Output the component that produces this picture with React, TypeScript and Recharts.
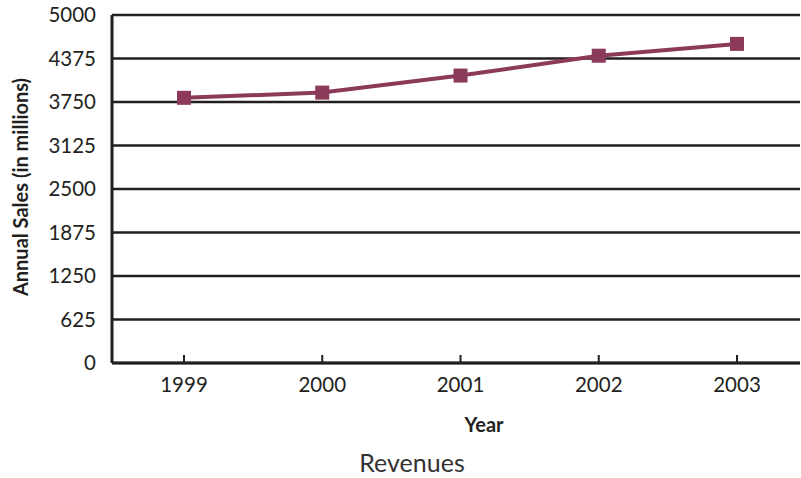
import { CartesianGrid, Label, Line, LineChart, XAxis, YAxis } from "recharts";

const years = ["1999", "2000", "2001", "2002", "2003"];
const sales = [3810, 3885, 4130, 4415, 4585];
const yTicks = [0, 625, 1250, 1875, 2500, 3125, 3750, 4375, 5000];

const data = years.map((year, i) => ({ year, sales: sales[i] }));

const font = "Lato, 'Open Sans', sans-serif";
const ink = "#231f20";
const wine = "#8b3a5a";

const YearTick = (props: any) => {
  const { x, y, payload } = props;
  return (
    <g>
      <line x1={x} x2={x} y1={y - 8} y2={y} stroke={ink} strokeWidth={2} />
      <text x={x} y={y + 29} textAnchor="middle" fontSize={20.5} fill={ink} fontFamily={font}>
        {payload.value}
      </text>
    </g>
  );
};

export default function App() {
  return (
    <div style={{ position: "absolute", left: 0, top: 0, width: 801, height: 478, background: "#fff" }}>
      <LineChart width={801} height={478} data={data} margin={{ top: 15, right: 1, left: 0, bottom: 0 }}>
        <CartesianGrid vertical={false} stroke={ink} strokeWidth={2.5} strokeOpacity={1} />
        <XAxis
          dataKey="year"
          height={115}
          padding={{ left: 72, right: 63 }}
          axisLine={{ stroke: ink, strokeWidth: 3 }}
          tickLine={false}
          tickSize={0}
          tickMargin={0}
          tick={<YearTick />}
        >
          <Label value="Year" position="insideTop" offset={55} dx={28} fontSize={20} fontWeight={700} fill={ink} fontFamily={font} />
          <Label value="Revenues" position="insideTop" offset={91} dx={-44} fontSize={25} fill="#333" fontFamily={font} />
        </XAxis>
        <YAxis
          domain={[0, 5000]}
          ticks={yTicks}
          interval={0}
          width={112}
          axisLine={{ stroke: ink, strokeWidth: 3 }}
          tickLine={false}
          tickMargin={10}
          tick={{ fontSize: 20.5, fill: ink, fontFamily: font }}
        >
          <Label
            value="Annual Sales (in millions)"
            angle={-90}
            position="insideLeft"
            offset={21}
            dy={-2}
            style={{ textAnchor: "middle", fontSize: 20, fontWeight: 700, fill: ink, fontFamily: font }}
          />
        </YAxis>
        <Line
          type="linear"
          dataKey="sales"
          stroke={wine}
          strokeWidth={4}
          isAnimationActive={false}
          dot={(p: any) => (
            <rect key={p.index} x={p.cx - 7} y={p.cy - 7} width={14} height={14} fill={wine} />
          )}
          activeDot={false}
        />
      </LineChart>
    </div>
  );
}
